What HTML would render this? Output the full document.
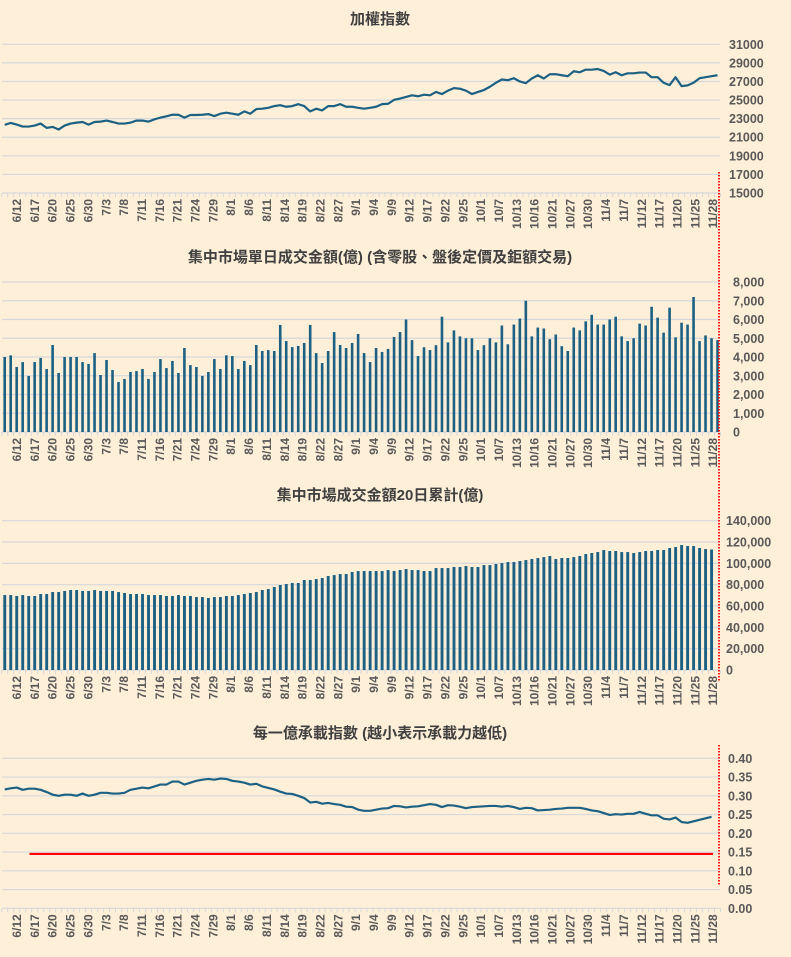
<!DOCTYPE html>
<html><head><meta charset="utf-8"><style>
html,body{margin:0;padding:0;background:#FEEFD8;}
svg{display:block;font-family:"Liberation Sans","Noto Sans CJK TC",sans-serif;}
</style></head><body>
<svg id="c" width="791" height="957" viewBox="0 0 791 957" xmlns="http://www.w3.org/2000/svg">
<rect width="791" height="957" fill="#FEEFD8"/>
</svg>
<script>
const dateLabels = ["6/12","6/17","6/20","6/25","6/30","7/3","7/8","7/11","7/16","7/21","7/24","7/29","8/1","8/6","8/11","8/14","8/19","8/22","8/27","9/1","9/4","9/9","9/12","9/17","9/22","9/25","10/1","10/7","10/13","10/16","10/21","10/27","10/30","11/4","11/7","11/12","11/17","11/20","11/25","11/28"];
const indexValues = [22330,22540,22360,22150,22150,22260,22470,22010,22110,21830,22260,22470,22570,22640,22360,22640,22680,22790,22640,22470,22470,22570,22790,22790,22680,22930,23110,23250,23420,23420,23110,23390,23390,23420,23490,23280,23530,23640,23530,23420,23780,23530,24030,24070,24170,24350,24450,24280,24350,24560,24350,23780,24070,23890,24350,24350,24560,24280,24280,24170,24070,24170,24280,24560,24600,25020,25160,25340,25510,25410,25580,25510,25870,25650,26010,26290,26220,26010,25650,25870,26080,26430,26860,27210,27140,27350,27000,26820,27320,27670,27320,27780,27780,27670,27570,28100,27990,28270,28270,28340,28130,27740,27990,27670,27880,27880,27960,27960,27460,27460,26860,26610,27460,26500,26580,26860,27350,27460,27570,27670];
const dailyVolume = [4000,4090,3470,3730,2990,3730,3950,3360,4640,3150,4000,4000,4000,3730,3630,4210,3040,3840,3310,2670,2830,3200,3250,3360,2830,3200,3890,3410,3790,3150,4480,3570,3470,2990,3200,3890,3360,4090,4050,3360,3790,3570,4640,4320,4370,4320,5710,4850,4530,4590,4750,5710,4210,3680,4320,5330,4640,4480,4750,5230,4210,3730,4480,4270,4430,5070,5330,6000,4900,4050,4520,4370,4630,6150,4780,5420,5100,5000,5000,4370,4630,5000,4780,5680,4680,5730,6050,7000,5100,5570,5520,4950,5200,4580,4320,5570,5420,5900,6250,5730,5730,6000,6150,5100,4850,5000,5780,5680,6680,6100,5300,6630,5050,5830,5730,7200,4850,5150,5000,4900];
const volume20 = [70300,70300,69400,70300,69400,69400,71250,71250,73100,73100,74100,75000,75000,74100,74100,75000,74100,74100,74100,73100,72200,71250,71250,71250,70300,70300,70300,69400,69400,70300,69400,69400,68400,68400,67500,68400,68400,69400,69400,70300,71250,72200,73100,75000,75900,77800,79700,80600,81600,81600,84400,84400,85300,86250,88100,89000,90000,90000,91900,92800,92800,92800,92800,92800,93750,92800,93750,94700,93750,93750,92800,92800,95600,95600,95600,96600,96600,97500,96600,96600,98400,98400,99400,100300,101250,101250,102200,103100,104100,105000,105900,106900,104100,105000,105000,105900,106900,108750,109700,110600,112500,111600,111600,110600,110600,109700,110600,111600,111600,112500,112500,114400,115300,117200,116250,116250,114400,113400,113000];
const loadIndex = [0.317,0.320,0.322,0.316,0.319,0.319,0.316,0.310,0.303,0.300,0.303,0.303,0.300,0.306,0.300,0.303,0.308,0.308,0.306,0.306,0.308,0.316,0.319,0.322,0.320,0.325,0.330,0.330,0.338,0.338,0.330,0.335,0.340,0.343,0.345,0.343,0.346,0.345,0.340,0.338,0.335,0.330,0.332,0.325,0.321,0.317,0.311,0.306,0.305,0.300,0.294,0.282,0.284,0.279,0.281,0.278,0.276,0.271,0.270,0.263,0.260,0.260,0.263,0.266,0.267,0.273,0.272,0.269,0.271,0.272,0.275,0.278,0.276,0.270,0.275,0.274,0.271,0.267,0.270,0.271,0.272,0.273,0.273,0.271,0.273,0.270,0.265,0.268,0.267,0.261,0.262,0.263,0.265,0.266,0.268,0.268,0.268,0.265,0.261,0.259,0.254,0.249,0.251,0.250,0.252,0.252,0.257,0.252,0.248,0.248,0.239,0.237,0.242,0.230,0.228,0.232,0.236,0.240,0.244];
const threshold = [0.145];
const ticks1 = [15000,17000,19000,21000,23000,25000,27000,29000,31000];
const ticks2 = [0,1000,2000,3000,4000,5000,6000,7000,8000];
const ticks3 = [0,20000,40000,60000,80000,100000,120000,140000];
const ticks4 = [0,0.05,0.10,0.15,0.20,0.25,0.30,0.35,0.40];

const NS="http://www.w3.org/2000/svg";
const svg=document.getElementById('c');
function el(tag,attrs,parent){const e=document.createElementNS(NS,tag);for(const k in attrs)e.setAttribute(k,attrs[k]);(parent||svg).appendChild(e);return e;}
const x0=4.7, dx=5.99, N=120;
function xOf(i){return x0+dx*i;}
function labelX(k){return 17+17.85*k;}
function lin(d0,d1,r0,r1){return v=>r0+(v-d0)*(r1-r0)/(d1-d0);}
const fmtComma=v=>v.toLocaleString('en-US');

function panel(opts){
  const g=el('g',{});
  
  
  const t=el('text',{x:380,y:opts.titleY,'text-anchor':'middle','font-size':'15','font-weight':'bold',fill:'#404040'},g);
  t.textContent=opts.title;
  
  
  const y=opts.y;
  opts.ticks.forEach(v=>{
    const yy=y(v);
    const ln=el('line',{x1:2,x2:720,y1:yy,y2:yy,stroke:'#D6D8DC','stroke-width':1.2},g);
    
    
    const tx=el('text',{x:opts.labelX,y:yy+4.5,'font-size':'12.5','font-weight':'bold',fill:'#595959'},g);
    tx.textContent=opts.fmt(v);
    
    
  });
  const base=y(opts.ticks[0]);
  for(let i=0;i<=N;i++){
    const xx=1.7+dx*i;
    const tk=el('line',{x1:xx,x2:xx,y1:base,y2:base+4,stroke:'#D6D8DC','stroke-width':1},g);
    
    
  }
  dateLabels.forEach((d,k)=>{
    const xx=labelX(k)+4;
    const tx=el('text',{transform:`translate(${xx},${base+6}) rotate(-90)`,'text-anchor':'end','font-size':'12','font-weight':'bold',fill:'#595959'},g);
    tx.textContent=d;
    
    
  });
  return g;
}

// Panel 1
const y1=lin(15000,31000,193,44.3);
const g1=panel({name:'taiex-panel',title:'加權指數',titleY:24,y:y1,ticks:ticks1,labelX:729,fmt:v=>String(v)});
const p1=el('polyline',{points:indexValues.map((v,i)=>xOf(i)+','+y1(v)).join(' '),fill:'none',stroke:'#1C6184','stroke-width':2.2,'stroke-linejoin':'round'},g1);



// Panel 2
const y2=lin(0,8000,432,282);
const g2=panel({name:'daily-volume-panel',title:'集中市場單日成交金額(億) (含零股、盤後定價及鉅額交易)',titleY:262,y:y2,ticks:ticks2,labelX:733,fmt:fmtComma});
dailyVolume.forEach((v,i)=>{
  const r=el('rect',{x:xOf(i)-1.3,y:y2(v),width:2.6,height:y2(0)-y2(v),fill:'#1C6184'},g2);
  
  
});

// Panel 3
const y3=lin(0,140000,670,520.7);
const g3=panel({name:'volume-20d-panel',title:'集中市場成交金額20日累計(億)',titleY:500,y:y3,ticks:ticks3,labelX:726,fmt:fmtComma});
volume20.forEach((v,i)=>{
  const r=el('rect',{x:xOf(i)-1.4,y:y3(v),width:2.9,height:y3(0)-y3(v),fill:'#1C6184'},g3);
  
  
});

// Panel 4
const y4=lin(0,0.40,908.3,758.3);
const g4=panel({name:'load-index-panel',title:'每一億承載指數 (越小表示承載力越低)',titleY:738,y:y4,ticks:ticks4,labelX:728,fmt:v=>v.toFixed(2)});
const th=el('line',{x1:29.5,x2:713,y1:y4(threshold[0]),y2:y4(threshold[0]),stroke:'#FF0000','stroke-width':2.2},g4);


const p4=el('polyline',{points:loadIndex.map((v,i)=>xOf(i)+','+y4(v)).join(' '),fill:'none',stroke:'#1C6184','stroke-width':2.2,'stroke-linejoin':'round'},g4);



// red dotted markers
const d1=el('line',{x1:719,x2:719,y1:172,y2:682,stroke:'#FF0000','stroke-width':1.8,'stroke-dasharray':'1.5 1.5'});


const d2=el('line',{x1:719,x2:719,y1:745,y2:886,stroke:'#FF0000','stroke-width':1.8,'stroke-dasharray':'1.5 1.5'});


</script>
</body></html>
